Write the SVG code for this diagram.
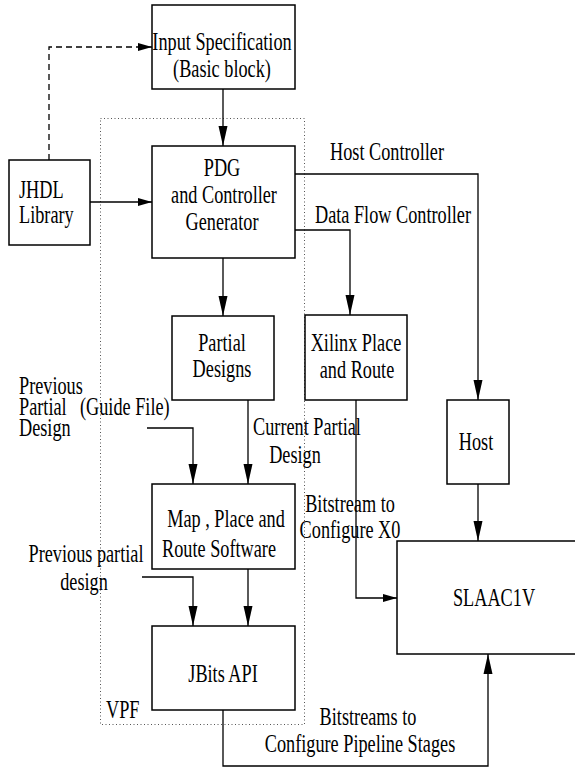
<svg xmlns="http://www.w3.org/2000/svg" width="575" height="769" viewBox="0 0 575 769">
<style>
.box{fill:#fff;stroke:#000;stroke-width:1.5}
.t{font-family:"Liberation Serif","Times New Roman",serif;font-size:25px;fill:#000}
.m{text-anchor:middle}
.c{fill:none;stroke:#000;stroke-width:1.3}
.v{marker-end:url(#av)}
.h{marker-end:url(#ah)}
.vpf{fill:none;stroke:#555;stroke-width:1;stroke-dasharray:1 2.5}
</style>
<defs>
<marker id="av" markerUnits="userSpaceOnUse" markerWidth="22" markerHeight="12" viewBox="0 -6 22 12" refX="20" refY="0" orient="auto">
<path d="M0,-4.5 L20,0 L0,4.5 Z" fill="#000"/>
</marker>
<marker id="ah" markerUnits="userSpaceOnUse" markerWidth="16" markerHeight="10" viewBox="0 -5 16 10" refX="14" refY="0" orient="auto">
<path d="M0,-4 L14,0 L0,4 Z" fill="#000"/>
</marker>
</defs>
<rect x="0" y="0" width="575" height="769" fill="#fff"/>

<g id="vpf">
<rect class="vpf" x="100.5" y="118.5" width="204" height="606"/>
<text class="t" transform="translate(106,718) scale(0.73,1)">VPF</text>
</g>

<g id="connectors">
<path class="c v" d="M223,89 V146"/>
<path class="c h" d="M49,160 V47 H152" stroke-dasharray="6 4"/>
<path class="c h" d="M90,202 H152"/>
<path class="c v" d="M295,174 H478 V400"/>
<path class="c v" d="M295,230 H350 V315"/>
<path class="c v" d="M223,258 V316"/>
<path class="c v" d="M248,400 V484"/>
<path class="c h" d="M356,400 V598 H397"/>
<path class="c v" d="M478,484 V541"/>
<path class="c v" d="M248,569 V626"/>
<path class="c v" d="M147,428 H193 V484"/>
<path class="c v" d="M142,577 H193 V626"/>
<path class="c v" d="M223,710 V766 H488 V654"/>
</g>

<g id="labels">
<text class="t m" transform="translate(387,160) scale(0.73,1)">Host Controller</text>
<text class="t m" transform="translate(393,223) scale(0.73,1)">Data Flow Controller</text>
<text class="t" transform="translate(19,394) scale(0.73,1)">Previous</text>
<text class="t" transform="translate(19,415) scale(0.73,1)">Partial</text>
<text class="t" transform="translate(19,436) scale(0.73,1)">Design</text>
<text class="t" transform="translate(80,415) scale(0.73,1)">(Guide File)</text>
<text class="t m" transform="translate(307,435) scale(0.73,1)">Current Partial</text>
<text class="t m" transform="translate(295,463) scale(0.73,1)">Design</text>
<text class="t m" transform="translate(350,512) scale(0.73,1)">Bitstream to</text>
<text class="t m" transform="translate(350,538) scale(0.73,1)">Configure X0</text>
<text class="t m" transform="translate(86,562) scale(0.73,1)">Previous partial</text>
<text class="t m" transform="translate(84,590) scale(0.73,1)">design</text>
<text class="t m" transform="translate(368,725) scale(0.73,1)">Bitstreams to</text>
<text class="t m" transform="translate(360,752) scale(0.73,1)">Configure Pipeline Stages</text>
</g>

<g id="input-spec">
<rect class="box" x="152" y="5" width="143" height="84"/>
<text class="t m" transform="translate(222,50) scale(0.73,1)">Input Specification</text>
<text class="t m" transform="translate(222,77) scale(0.73,1)">(Basic block)</text>
</g>

<g id="jhdl">
<rect class="box" x="9" y="160" width="81" height="85"/>
<text class="t" transform="translate(19,198) scale(0.73,1)">JHDL</text>
<text class="t" transform="translate(19,223) scale(0.73,1)">Library</text>
</g>

<g id="pdg">
<rect class="box" x="152" y="146" width="143" height="112"/>
<text class="t m" transform="translate(222,176) scale(0.73,1)">PDG</text>
<text class="t m" transform="translate(224,203) scale(0.73,1)">and Controller</text>
<text class="t m" transform="translate(222,230) scale(0.73,1)">Generator</text>
</g>

<g id="partial-designs">
<rect class="box" x="172" y="316" width="102" height="84"/>
<text class="t m" transform="translate(222,351) scale(0.73,1)">Partial</text>
<text class="t m" transform="translate(222,377) scale(0.73,1)">Designs</text>
</g>

<g id="xilinx">
<rect class="box" x="305" y="315" width="102" height="85"/>
<text class="t m" transform="translate(356,351) scale(0.73,1)">Xilinx Place</text>
<text class="t m" transform="translate(357,378) scale(0.73,1)">and Route</text>
</g>

<g id="host">
<rect class="box" x="447" y="400" width="62" height="84"/>
<text class="t m" transform="translate(476,450) scale(0.73,1)">Host</text>
</g>

<g id="map-place-route">
<rect class="box" x="152" y="484" width="143" height="85"/>
<text class="t m" transform="translate(226,527) scale(0.73,1)">Map , Place and</text>
<text class="t m" transform="translate(219,557) scale(0.73,1)">Route Software</text>
</g>

<g id="jbits">
<rect class="box" x="152" y="626" width="143" height="84"/>
<text class="t m" transform="translate(223,682) scale(0.73,1)">JBits API</text>
</g>

<g id="slaac1v">
<rect class="box" x="397" y="541" width="190" height="113"/>
<text class="t m" transform="translate(494,606) scale(0.73,1)">SLAAC1V</text>
</g>
</svg>
